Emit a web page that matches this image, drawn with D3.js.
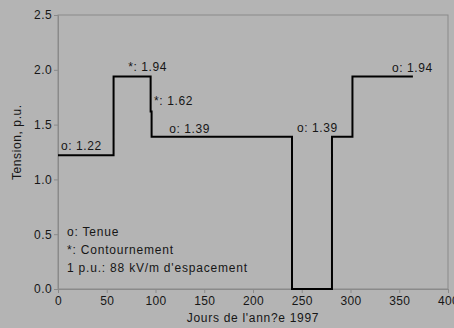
<!DOCTYPE html>
<html>
<head>
<meta charset="utf-8">
<script src="https://cdn.jsdelivr.net/npm/d3@7"></script>
<style>
  html, body { margin: 0; padding: 0; background: #b4b4b4; }
  svg { display: block; font-family: "Liberation Sans", Arial, sans-serif; }
</style>
</head>
<body>
<svg id="chart" width="454" height="328"></svg>
<script>
// Voltage profile over the year (step function): day where each level starts, and its level in p.u.
const stepDays   = [0, 57, 95, 96, 240, 281, 302, 364];
const stepLevels = [1.22, 1.94, 1.62, 1.39, 0.0, 1.39, 1.94, 1.94];

// Annotated levels: label text, value, and the day the label starts at
const annotTexts = ["o: 1.22", "*: 1.94", "*: 1.62", "o: 1.39", "o: 1.39", "o: 1.94"];
const annotDays  = [3, 72, 98.5, 114, 245, 342.5];
const annotVals  = [1.22, 1.94, 1.62, 1.39, 1.39, 1.94];
const annotDy    = [-5, -5, -6, -4, -4.5, -4.5];

const legendLines = ["o: Tenue", "*: Contournement", "1 p.u.: 88 kV/m d'espacement"];

const xTicks = [0, 50, 100, 150, 200, 250, 300, 350, 400];
const yTicks = [0.0, 0.5, 1.0, 1.5, 2.0, 2.5];

const svg = d3.select("#chart");
const plotLeft = 58, plotRight = 448, plotTop = 15, plotBottom = 289;

const x = d3.scaleLinear().domain([0, 400]).range([plotLeft, plotRight]);
const y = d3.scaleLinear().domain([0, 2.5]).range([plotBottom, plotTop]);

const frame = "#8a8a8a";
const ink = "#161616";
const fontSize = 12;

// Frame around the plot area
svg.append("rect")
  .attr("x", plotLeft).attr("y", plotTop)
  .attr("width", plotRight - plotLeft).attr("height", plotBottom - plotTop)
  .attr("fill", "none").attr("stroke", frame).attr("stroke-width", 1);

// Axes
const xAxis = svg.append("g")
  .attr("transform", `translate(0,${plotBottom})`)
  .call(d3.axisBottom(x).tickValues(xTicks).tickSize(4).tickPadding(3).tickFormat(d3.format("d")));
const yAxis = svg.append("g")
  .attr("transform", `translate(${plotLeft},0)`)
  .call(d3.axisLeft(y).tickValues(yTicks).tickSize(4).tickPadding(2).tickFormat(d3.format(".1f")));

[xAxis, yAxis].forEach(g => {
  g.select(".domain").attr("stroke", frame);
  g.selectAll(".tick line").attr("stroke", frame);
  g.selectAll(".tick text").attr("fill", ink).attr("font-size", fontSize)
    .attr("letter-spacing", 0.4)
    .attr("font-family", "Liberation Sans, Arial, sans-serif");
});

// Axis titles
svg.append("text")
  .attr("x", x(200)).attr("y", 322)
  .attr("text-anchor", "middle").attr("font-size", fontSize).attr("fill", ink)
  .attr("letter-spacing", 0.7)
  .text("Jours de l'ann?e 1997");
svg.append("text")
  .attr("transform", `translate(21,${y(1.34)}) rotate(-90)`)
  .attr("text-anchor", "middle").attr("font-size", fontSize).attr("fill", ink)
  .attr("letter-spacing", 0.6)
  .text("Tension, p.u.");

// Step line
const pts = stepDays.map((d, i) => [d, stepLevels[i]]);
const line = d3.line()
  .x(d => x(d[0]))
  .y(d => y(d[1]))
  .curve(d3.curveStepAfter);
svg.append("path")
  .datum(pts)
  .attr("d", line)
  .attr("fill", "none")
  .attr("stroke", "#000")
  .attr("stroke-width", 2)
  .attr("stroke-linejoin", "miter");

// Level annotations
svg.append("g").selectAll("text")
  .data(annotTexts)
  .join("text")
  .attr("x", (d, i) => x(annotDays[i]))
  .attr("y", (d, i) => y(annotVals[i]) + annotDy[i])
  .attr("font-size", fontSize)
  .attr("letter-spacing", 0.6)
  .attr("fill", ink)
  .text(d => d);

// Legend notes
svg.append("g").selectAll("text")
  .data(legendLines)
  .join("text")
  .attr("x", 67)
  .attr("y", (d, i) => 236 + i * 18)
  .attr("font-size", fontSize)
  .attr("letter-spacing", 0.8)
  .attr("fill", ink)
  .text(d => d);
</script>
</body>
</html>
